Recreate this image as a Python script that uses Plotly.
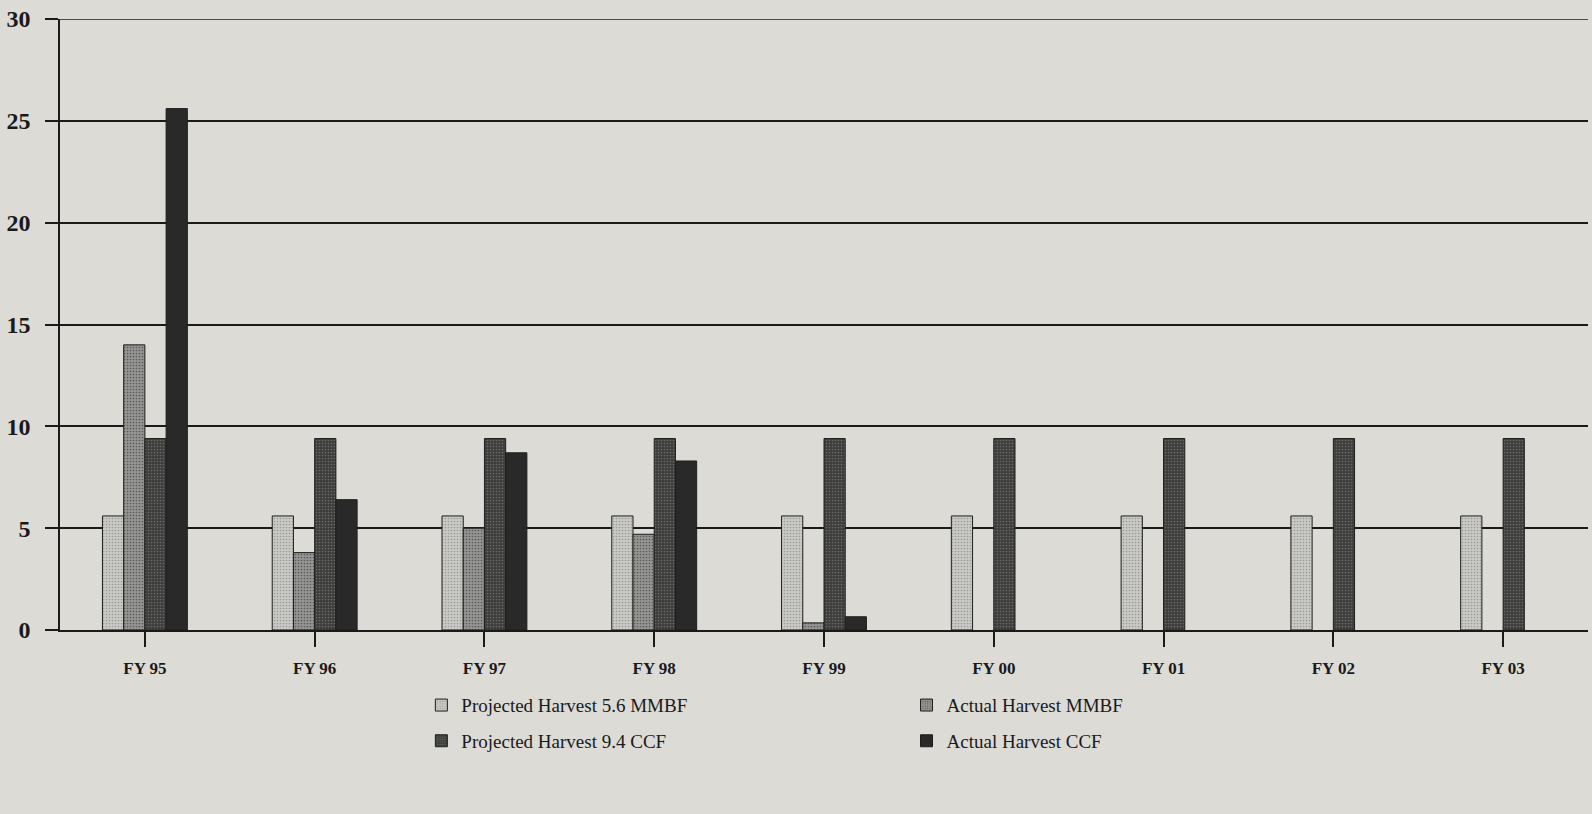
import plotly.graph_objects as go

categories = ["FY 95", "FY 96", "FY 97", "FY 98", "FY 99", "FY 00", "FY 01", "FY 02", "FY 03"]
proj_mmbf = [5.6, 5.6, 5.6, 5.6, 5.6, 5.6, 5.6, 5.6, 5.6]
actual_mmbf = [14.0, 3.8, 5.0, 4.7, 0.35, None, None, None, None]
proj_ccf = [9.4, 9.4, 9.4, 9.4, 9.4, 9.4, 9.4, 9.4, 9.4]
actual_ccf = [25.6, 6.4, 8.7, 8.3, 0.65, None, None, None, None]
y_ticks = [0, 5, 10, 15, 20, 25, 30]

bg = "#dcdbd6"
ink = "#1a1a1a"
series = [
    ("Projected Harvest 5.6 MMBF", proj_mmbf, "#cacac6", "#9a9a97", "legend"),
    ("Actual Harvest MMBF", actual_mmbf, "#959593", "#5a5a58", "legend2"),
    ("Projected Harvest 9.4 CCF", proj_ccf, "#3d3d3c", "#6a6a68", "legend"),
    ("Actual Harvest CCF", actual_ccf, "#292929", "#292929", "legend2"),
]

fig = go.Figure()
for i, (name, vals, col, fg, lg) in enumerate(series):
    fig.add_trace(go.Bar(
        x=categories, y=vals, name=name, legend=lg, legendgroup="g%d" % i,
        marker=dict(color=col, line=dict(color="#1e1e1e", width=1),
                    pattern=dict(shape="." if i < 3 else "", size=3, solidity=0.25,
                                 fgcolor=fg, bgcolor=col, fillmode="replace")),
    ))

# top gridline at 30
fig.add_shape(type="line", xref="paper", yref="y", x0=-0.009, x1=1, y0=30, y1=30,
              line=dict(color=ink, width=1.5))

legend_common = dict(
    y=-0.092, xanchor="left", yanchor="top",
    orientation="v", bgcolor="rgba(0,0,0,0)",
    font=dict(size=19, family="Liberation Serif", color=ink),
    traceorder="grouped", tracegroupgap=8,
)

fig.update_layout(
    width=1592, height=814,
    paper_bgcolor=bg, plot_bgcolor=bg,
    barmode="group", bargap=0.5, bargroupgap=0,
    margin=dict(l=60, r=4, t=19, b=184),
    font=dict(family="Liberation Serif", color=ink),
    xaxis=dict(
        showgrid=False, showline=True, linecolor=ink, linewidth=1.5,
        ticks="outside", ticklen=15, tickcolor=ink, tickwidth=1.5,
        ticklabelstandoff=7,
        tickfont=dict(size=17, family="Liberation Serif", weight="bold", color=ink),
    ),
    yaxis=dict(
        range=[0, 30], tickvals=y_ticks,
        showgrid=True, gridcolor=ink, gridwidth=1.5,
        zeroline=False,
        showline=True, linecolor=ink, linewidth=1.5,
        ticks="outside", ticklen=13, tickcolor=ink, tickwidth=1.5,
        ticklabelstandoff=10,
        tickfont=dict(size=24, family="Liberation Serif", weight="bold", color=ink),
    ),
    legend=dict(x=0.2365, **legend_common),
    legend2=dict(x=0.554, **legend_common),
)

fig.write_html("out.html", config={"displayModeBar": False},
               post_script="document.body.style.margin='0';document.body.style.background='#dcdbd6';")
